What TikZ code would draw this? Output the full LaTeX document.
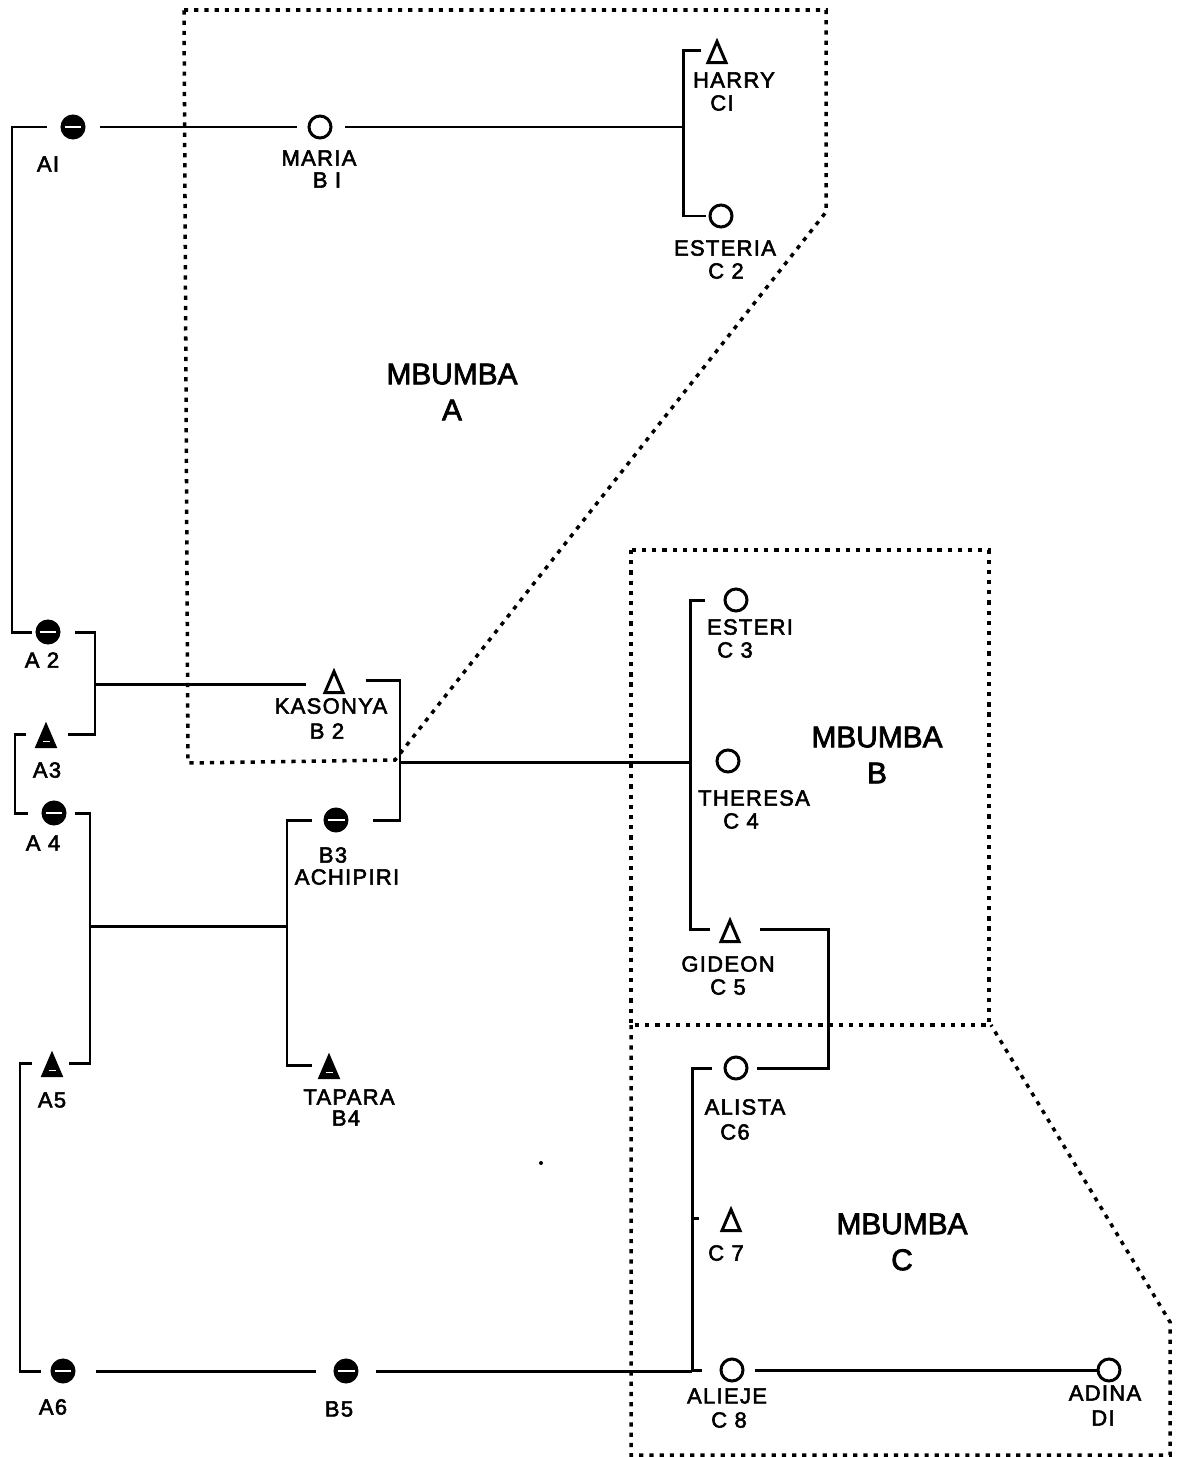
\documentclass[tikz,border=0pt]{standalone}
\usepackage{fontspec}
\setmainfont{Liberation Sans}
\newfontfamily\lblfamily{Liberation Sans}[LetterSpace=6, FakeBold=2.5]
\newfontfamily\grpfamily{Liberation Sans}[FakeBold=2.5]
\usetikzlibrary{shapes.geometric}
\newcommand\namefont{\lblfamily\fontsize{12.5}{13.5}\selectfont}
\newcommand\groupfont{\grpfamily\fontsize{17}{20.5}\selectfont}
\begin{document}
\begin{tikzpicture}[x=0.02cm, y=-0.02cm,
    kin/.style={line width=1.7pt},
    bound/.style={line width=2pt, dash pattern=on 2.4pt off 3.4pt},
    female/.style={circle, draw, line width=1.7pt, inner sep=0pt, minimum size=0.44cm},
    male/.style={isosceles triangle, isosceles triangle stretches, shape border rotate=90,
        anchor=lower side, draw, line width=1.7pt, inner sep=0pt,
        minimum width=0.36cm, minimum height=0.42cm},
    dead/.style={fill=black},
    hatch/.style={white, line width=0.6pt},
    lbl/.style={font=\namefont, inner sep=0pt},
    mbumba/.style={font=\groupfont, align=center, inner sep=0pt}]
    % 1. Page size
    \useasboundingbox (0,0) rectangle (1177,1457);

    % 2. Mbumba boundaries (dotted)
    \draw[bound] (184,10) -- (826,10) -- (826,212) -- (395,760) -- (188,763) -- cycle;
    \draw[bound] (631,550) rectangle (989,1025);
    \draw[bound] (631,1025) -- (631,1455) -- (1170,1455) -- (1170,1322) -- (991,1025);

    % 3. Persons (triangles are placed by the middle of their base)
    % Generation A
    \node[female, dead] (a1) at (73,127) {};
    \node[female, dead] (a2) at (48,632) {};
    \node[male, dead]   (a3) at (46,748) {};
    \node[female, dead] (a4) at (54,813) {};
    \node[male, dead]   (a5) at (52,1077) {};
    \node[female, dead] (a6) at (63,1371) {};
    % Generation B
    \node[female]       (b1) at (320,127) {};
    \node[male]         (b2) at (334,694) {};
    \node[female, dead] (b3) at (336,820) {};
    \node[male, dead]   (b4) at (329,1079) {};
    \node[female, dead] (b5) at (346,1371) {};
    % Generation C
    \node[male]   (c1) at (717,64) {};
    \node[female] (c2) at (721,216) {};
    \node[female] (c3) at (736,600) {};
    \node[female] (c4) at (728,761) {};
    \node[male]   (c5) at (730,943) {};
    \node[female] (c6) at (736,1068) {};
    \node[male]   (c7) at (731,1232) {};
    \node[female] (c8) at (732,1370) {};
    % Generation D
    \node[female] (d1) at (1109,1370) {};

    % shading on the filled symbols
    \foreach \n in {a1,a2,a4,b3,a6,b5}
        \draw[hatch] ([xshift=-0.17cm]\n.center) -- ([xshift=0.17cm]\n.center);
    \foreach \n in {a3,a5,b4}
        \draw[hatch] ([xshift=-0.07cm,yshift=0.13cm]\n.lower side) -- ([xshift=0.07cm,yshift=0.13cm]\n.lower side);

    % 4. Junction points
    \coordinate (jA12) at (12,380);
    \coordinate (mA23) at (95,684);
    \coordinate (jA34) at (15,775);
    \coordinate (mA45) at (90,926);
    \coordinate (jA56) at (20,1220);
    \coordinate (mB23) at (400,762);
    \coordinate (jB34) at (287,926);
    \coordinate (jC12) at (683,127);
    \coordinate (jC35) at (690,762);
    \coordinate (mC56) at (828,1000);
    \coordinate (jC68) at (692,1220);

    % 5. Kinship lines
    \draw[kin, shorten <=0.52cm, shorten >=0.32cm] (a1.center) -| (jA12) |- (a2.center);
    \draw[kin, shorten <=0.54cm, shorten >=0.46cm] (a1.center) -- (b1.center);
    \draw[kin, shorten <=0.5cm] (b1.center) -- (jC12);
    \draw[kin, shorten <=0.2cm, shorten >=0.3cm] (c1.left side) -| (jC12) |- (c2.center);
    \draw[kin, shorten <=0.54cm, shorten >=0.32cm] (a2.center) -| (mA23) |- (a3.right side);
    \draw[kin, shorten >=0.44cm] (mA23) -- (mA23 -| b2.left side);
    \draw[kin, shorten <=0.52cm, shorten >=0.74cm] (b2.right side) -| (mB23) |- (b3.center);
    \draw[kin] (mB23) -- (jC35);
    \draw[kin, shorten <=0.62cm, shorten >=0.28cm] (c3.center) -| (jC35) |- (c5.left side);
    \draw[kin, shorten <=0.28cm, shorten >=0.52cm] (a3.left side) -| (jA34) |- (a4.center);
    \draw[kin, shorten <=0.42cm, shorten >=0.22cm] (a4.center) -| (mA45) |- (a5.right side);
    \draw[kin] (mA45) -- (jB34);
    \draw[kin, shorten <=0.48cm, shorten >=0.22cm] (b3.center) -| (jB34) |- (b4.left side);
    \draw[kin, shorten <=0.28cm, shorten >=0.44cm] (a5.left side) -| (jA56) |- (a6.center);
    \draw[kin, shorten <=0.66cm, shorten >=0.6cm] (a6.center) -- (b5.center);
    \draw[kin, shorten <=0.6cm] (b5.center) -- (b5.center -| jC68);
    \draw[kin, shorten <=0.48cm, shorten >=0.6cm] (c6.center) -| (jC68) |- (c8.center);
    \draw[kin, shorten <=0.52cm] (c7.left side) -- (c7.left side -| jC68);
    \draw[kin, shorten <=0.48cm, shorten >=0.42cm] (c5.right side) -| (mC56) |- (c6.center);
    \draw[kin, shorten <=0.46cm, shorten >=0.24cm] (c8.center) -- (d1.center);

    % 6. Names (one node per line of text)
    \node[lbl] (la1)  at (48,164)   {AI};
    \node[lbl] (lb1)  at (319,158)  {MARIA};
    \node[lbl] (lb1n) at (327,180)  {B I};
    \node[lbl] (lc1)  at (734,80)   {HARRY};
    \node[lbl] (lc1n) at (722,103)  {CI};
    \node[lbl] (lc2)  at (725,248)  {ESTERIA};
    \node[lbl] (lc2n) at (726,271)  {C 2};
    \node[lbl] (la2)  at (42,660)   {A 2};
    \node[lbl] (lb2)  at (331,706)  {KASONYA};
    \node[lbl] (lb2n) at (327,731)  {B 2};
    \node[lbl] (la3)  at (47,770)   {A3};
    \node[lbl] (la4)  at (43,843)   {A 4};
    \node[lbl] (lb3)  at (333,855)  {B3};
    \node[lbl] (lb3n) at (347,877)  {ACHIPIRI};
    \node[lbl] (la5)  at (52,1100)  {A5};
    \node[lbl] (lb4)  at (349,1097) {TAPARA};
    \node[lbl] (lb4n) at (346,1118) {B4};
    \node[lbl] (la6)  at (53,1407)  {A6};
    \node[lbl] (lb5)  at (339,1409) {B5};
    \node[lbl] (lc3)  at (750,627)  {ESTERI};
    \node[lbl] (lc3n) at (735,650)  {C 3};
    \node[lbl] (lc4)  at (754,798)  {THERESA};
    \node[lbl] (lc4n) at (741,821)  {C 4};
    \node[lbl] (lc5)  at (728,964)  {GIDEON};
    \node[lbl] (lc5n) at (728,987)  {C 5};
    \node[lbl] (lc6)  at (745,1107) {ALISTA};
    \node[lbl] (lc6n) at (735,1132) {C6};
    \node[lbl] (lc7)  at (726,1253) {C 7};
    \node[lbl] (lc8)  at (727,1396) {ALIEJE};
    \node[lbl] (lc8n) at (729,1420) {C 8};
    \node[lbl] (ld1)  at (1105,1393) {ADINA};
    \node[lbl] (ld1n) at (1103,1418) {DI};

    % 7. Mbumba names
    \node[mbumba] (gA) at (452,392) {MBUMBA\\A};
    \node[mbumba] (gB) at (877,755) {MBUMBA\\B};
    \node[mbumba] (gC) at (902,1242) {MBUMBA\\C};

    % speck
    \fill (541,1163) circle (2);
\end{tikzpicture}
\end{document}
